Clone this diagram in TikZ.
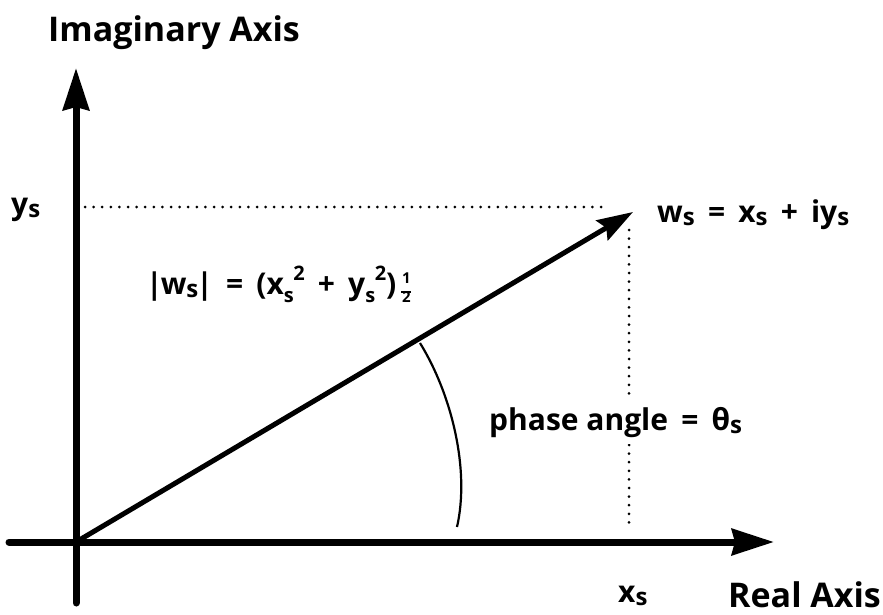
\documentclass[tikz,border=0pt]{standalone}
\usepackage{fontspec}
\setmainfont{Open Sans}
\usetikzlibrary{arrows.meta}
\newcommand\sbs[1]{\raisebox{-0.28em}{\fontsize{20}{20}\selectfont #1}}
\newcommand\sbl[1]{\raisebox{-0.12em}{\fontsize{24}{24}\selectfont #1}}
\newcommand\sps[1]{\raisebox{0.45em}{\fontsize{20}{20}\selectfont #1}}
\newcommand\halfstk{\raisebox{0.02em}{\fontsize{15}{15}\selectfont\begin{tabular}{@{}c@{}}1\\[-6pt]\rule{10pt}{1.9pt}\\[-6pt]2\end{tabular}}}
\newcommand\gap{\hspace{0.18em}}
\begin{document}
\begin{tikzpicture}[x=1pt,y=-1pt,
  axisline/.style={line width=7pt, line cap=round, -{Stealth[length=42pt,width=26pt,inset=3pt]}},
  vecline/.style={line width=5pt, -{Stealth[length=36pt,width=23pt,inset=5pt]}},
  dotline/.style={line width=3pt, line cap=round, dash pattern=on 0pt off 8.6pt},
  lbl/.style={font=\fontsize{30}{32}\selectfont\bfseries, inner sep=0pt},
  biglbl/.style={font=\fontsize{34}{36}\selectfont\bfseries, inner sep=0pt}]
\useasboundingbox (0,0) rectangle (883,615);
% coordinates
\coordinate (O) at (76,542);
\coordinate (Ybot) at (76,603);
\coordinate (Ytop) at (76,68);
\coordinate (Xleft) at (9,542);
\coordinate (Xright) at (774,542);
\coordinate (W) at (633,212);
\coordinate (DYl) at (85,207);
\coordinate (DYr) at (605,207);
\coordinate (DXt) at (629,230);
\coordinate (DXb) at (629,527);
\coordinate (A1) at (420,343);
\coordinate (A2) at (457,527);
% axes
\draw[axisline] (Ybot) -- (Ytop);
\draw[axisline] (Xleft) -- (Xright);
% vector
\draw[vecline] (O) -- (W);
% dotted projections
\draw[dotline] (DYl) -- (DYr);
\draw[dotline] (DXt) -- (DXb);
% angle arc
\draw[line width=2.2pt] (A1) .. controls (452,395) and (470,470) .. (A2);
% labels
\node[biglbl, anchor=base west] (imag) at (48,42) {Imaginary Axis};
\node[biglbl, anchor=base west] (real) at (728,607) {Real Axis};
\node[lbl, anchor=base west] (ys) at (11,214) {y\sbl{s}};
\node[lbl, anchor=base west] (xs) at (618,602) {x\sbl{s}};
\node[lbl, anchor=base west] (wdef) at (657,222) {w\sbl{s}\gap{} = \gap{}x\sbl{s}\gap{} + \gap{}iy\sbl{s}};
\node[lbl, anchor=base west] (mod) at (146,294) {|\kern-2pt w\sbl{s}\kern-2pt|\gap{} = \gap{}(x\sbs{s}\kern-0.5pt\sps{2}\gap{} + \gap{}y\sbs{s}\kern-0.5pt\sps{2})\,\halfstk};
\node[lbl, anchor=base west, fill=white, inner xsep=0pt, inner ysep=7pt] (phase) at (489,430) {phase angle\gap{} = \gap{}θ\sbl{s}};
\end{tikzpicture}
\end{document}
